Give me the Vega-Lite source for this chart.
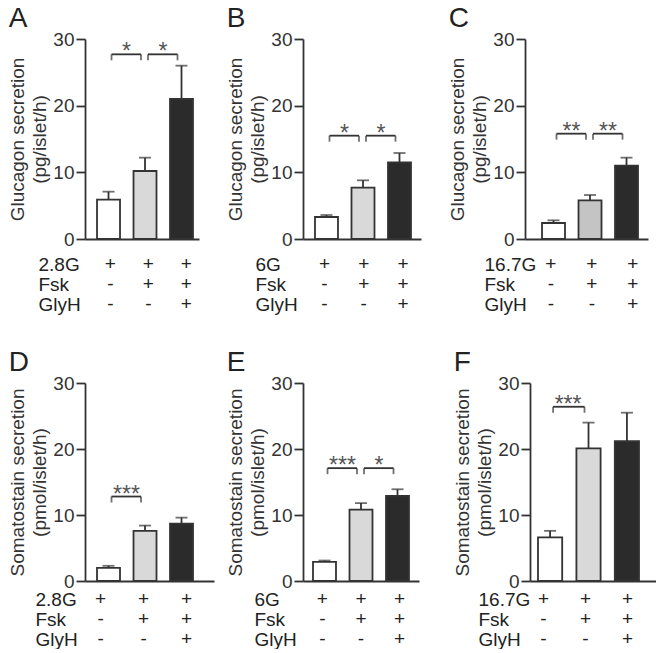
{
  "$schema": "https://vega.github.io/schema/vega-lite/v6.json",
  "padding": {"left": 8, "top": 5, "right": 0, "bottom": 0},
  "background": "white",
  "config": {
    "font": "Liberation Sans",
    "view": {"stroke": null},
    "axis": {"domainColor": "#333", "domainWidth": 1.8, "tickColor": "#333", "tickWidth": 1.8, "tickSize": 9, "labelFontSize": 19, "labelColor": "#333", "titleFontSize": 19, "titleFontWeight": "normal", "titleColor": "#333", "grid": false, "labelFlush": false, "labelOverlap": false},
    "title": {"fontSize": 28, "fontWeight": "normal", "color": "#222", "anchor": "start", "frame": "bounds", "offset": -3}
  },
  "datasets": {
    "A": [{"cond": "1", "mean": 5.9, "up": 7.1}, {"cond": "2", "mean": 10.2, "up": 12.2}, {"cond": "3", "mean": 21.0, "up": 26.0}],
    "Ab": [{"from": "1", "to": "2", "y": 27.7, "label": "*"}, {"from": "2", "to": "3", "y": 27.7, "label": "*"}],
    "tA": [{"cond": "1", "row": "2.8G", "sign": "+"}, {"cond": "2", "row": "2.8G", "sign": "+"}, {"cond": "3", "row": "2.8G", "sign": "+"}, {"cond": "1", "row": "Fsk", "sign": "-"}, {"cond": "2", "row": "Fsk", "sign": "+"}, {"cond": "3", "row": "Fsk", "sign": "+"}, {"cond": "1", "row": "GlyH", "sign": "-"}, {"cond": "2", "row": "GlyH", "sign": "-"}, {"cond": "3", "row": "GlyH", "sign": "+"}],
    "B": [{"cond": "1", "mean": 3.3, "up": 3.6}, {"cond": "2", "mean": 7.7, "up": 8.8}, {"cond": "3", "mean": 11.5, "up": 12.9}],
    "Bb": [{"from": "1", "to": "2", "y": 15.5, "label": "*"}, {"from": "2", "to": "3", "y": 15.5, "label": "*"}],
    "tB": [{"cond": "1", "row": "6G", "sign": "+"}, {"cond": "2", "row": "6G", "sign": "+"}, {"cond": "3", "row": "6G", "sign": "+"}, {"cond": "1", "row": "Fsk", "sign": "-"}, {"cond": "2", "row": "Fsk", "sign": "+"}, {"cond": "3", "row": "Fsk", "sign": "+"}, {"cond": "1", "row": "GlyH", "sign": "-"}, {"cond": "2", "row": "GlyH", "sign": "-"}, {"cond": "3", "row": "GlyH", "sign": "+"}],
    "C": [{"cond": "1", "mean": 2.4, "up": 2.8}, {"cond": "2", "mean": 5.8, "up": 6.6}, {"cond": "3", "mean": 11.0, "up": 12.2}],
    "Cb": [{"from": "1", "to": "2", "y": 15.8, "label": "**"}, {"from": "2", "to": "3", "y": 15.8, "label": "**"}],
    "tC": [{"cond": "1", "row": "16.7G", "sign": "+"}, {"cond": "2", "row": "16.7G", "sign": "+"}, {"cond": "3", "row": "16.7G", "sign": "+"}, {"cond": "1", "row": "Fsk", "sign": "-"}, {"cond": "2", "row": "Fsk", "sign": "+"}, {"cond": "3", "row": "Fsk", "sign": "+"}, {"cond": "1", "row": "GlyH", "sign": "-"}, {"cond": "2", "row": "GlyH", "sign": "-"}, {"cond": "3", "row": "GlyH", "sign": "+"}],
    "D": [{"cond": "1", "mean": 2.0, "up": 2.3}, {"cond": "2", "mean": 7.6, "up": 8.4}, {"cond": "3", "mean": 8.7, "up": 9.6}],
    "Db": [{"from": "1", "to": "2", "y": 12.8, "label": "***"}],
    "tD": [{"cond": "1", "row": "2.8G", "sign": "+"}, {"cond": "2", "row": "2.8G", "sign": "+"}, {"cond": "3", "row": "2.8G", "sign": "+"}, {"cond": "1", "row": "Fsk", "sign": "-"}, {"cond": "2", "row": "Fsk", "sign": "+"}, {"cond": "3", "row": "Fsk", "sign": "+"}, {"cond": "1", "row": "GlyH", "sign": "-"}, {"cond": "2", "row": "GlyH", "sign": "-"}, {"cond": "3", "row": "GlyH", "sign": "+"}],
    "E": [{"cond": "1", "mean": 2.9, "up": 3.1}, {"cond": "2", "mean": 10.8, "up": 11.8}, {"cond": "3", "mean": 12.9, "up": 13.9}],
    "Eb": [{"from": "1", "to": "2", "y": 17.1, "label": "***"}, {"from": "2", "to": "3", "y": 17.1, "label": "*"}],
    "tE": [{"cond": "1", "row": "6G", "sign": "+"}, {"cond": "2", "row": "6G", "sign": "+"}, {"cond": "3", "row": "6G", "sign": "+"}, {"cond": "1", "row": "Fsk", "sign": "-"}, {"cond": "2", "row": "Fsk", "sign": "+"}, {"cond": "3", "row": "Fsk", "sign": "+"}, {"cond": "1", "row": "GlyH", "sign": "-"}, {"cond": "2", "row": "GlyH", "sign": "-"}, {"cond": "3", "row": "GlyH", "sign": "+"}],
    "F": [{"cond": "1", "mean": 6.6, "up": 7.6}, {"cond": "2", "mean": 20.1, "up": 24.0}, {"cond": "3", "mean": 21.2, "up": 25.5}],
    "Fb": [{"from": "1", "to": "2", "y": 26.4, "label": "***"}],
    "tF": [{"cond": "1", "row": "16.7G", "sign": "+"}, {"cond": "2", "row": "16.7G", "sign": "+"}, {"cond": "3", "row": "16.7G", "sign": "+"}, {"cond": "1", "row": "Fsk", "sign": "-"}, {"cond": "2", "row": "Fsk", "sign": "+"}, {"cond": "3", "row": "Fsk", "sign": "+"}, {"cond": "1", "row": "GlyH", "sign": "-"}, {"cond": "2", "row": "GlyH", "sign": "-"}, {"cond": "3", "row": "GlyH", "sign": "+"}]
  },
  "spacing": 35,
  "vconcat": [
    {
      "spacing": 27,
      "hconcat": [
        {
          "title": "A", "bounds": "flush", "spacing": 15,
          "vconcat": [
            {"width": 114, "height": 200,
             "layer": [
               {"data": {"name": "A"}, "mark": {"type": "rule", "color": "#333", "strokeWidth": 1.8},
                "encoding": {"x": {"field": "cond", "type": "nominal", "scale": {"domain": ["1","2","3"], "paddingInner": 0.37, "paddingOuter": 0.247, "align": 0.667}, "axis": {"title": null, "labels": false, "ticks": false}},
                             "y": {"field": "mean", "type": "quantitative", "scale": {"domain": [0, 30]}, "title": ["Glucagon secretion", "(pg/islet/h)"], "axis": {"values": [0,5,10,15,20,25,30], "labelExpr": "datum.value % 10 === 0 ? datum.label : ''", "labelPadding": 2, "titlePadding": 3, "titleLineHeight": 22}},
                             "y2": {"field": "up"}}},
               {"data": {"name": "A"}, "mark": {"type": "bar", "stroke": "#333", "strokeWidth": 1.8},
                "encoding": {"x": {"field": "cond", "type": "nominal", "title": null}, "y": {"field": "mean", "type": "quantitative", "title": ["Glucagon secretion", "(pg/islet/h)"]},
                             "fill": {"condition": [{"test": "datum.cond === '1'", "value": "#ffffff"}, {"test": "datum.cond === '2'", "value": "#d9d9d9"}], "value": "#2b2b2b"}}},
               {"data": {"name": "A"}, "mark": {"type": "tick", "orient": "horizontal", "color": "#333", "size": 12, "thickness": 1.8},
                "encoding": {"x": {"field": "cond", "type": "nominal", "title": null}, "y": {"field": "up", "type": "quantitative", "title": ["Glucagon secretion", "(pg/islet/h)"]}}},
               {"data": {"name": "Ab"}, "mark": {"type": "rule", "color": "#333", "strokeWidth": 1.8, "xOffset": 3, "x2Offset": -4},
                "encoding": {"x": {"field": "from", "type": "nominal", "title": null}, "x2": {"field": "to"}, "y": {"field": "y", "type": "quantitative", "title": ["Glucagon secretion", "(pg/islet/h)"]}}},
               {"data": {"name": "Ab"}, "mark": {"type": "tick", "orient": "vertical", "color": "#333", "size": 6, "thickness": 1.8, "xOffset": 3, "yOffset": 3},
                "encoding": {"x": {"field": "from", "type": "nominal", "title": null}, "y": {"field": "y", "type": "quantitative", "title": ["Glucagon secretion", "(pg/islet/h)"]}}},
               {"data": {"name": "Ab"}, "mark": {"type": "tick", "orient": "vertical", "color": "#333", "size": 6, "thickness": 1.8, "xOffset": -4, "yOffset": 3},
                "encoding": {"x": {"field": "to", "type": "nominal", "title": null}, "y": {"field": "y", "type": "quantitative", "title": ["Glucagon secretion", "(pg/islet/h)"]}}},
               {"data": {"name": "Ab"}, "mark": {"type": "text", "fontSize": 23, "color": "#555", "baseline": "alphabetic", "dy": 5, "xOffset": 18},
                "encoding": {"x": {"field": "from", "type": "nominal", "title": null}, "y": {"field": "y", "type": "quantitative", "title": ["Glucagon secretion", "(pg/islet/h)"]}, "text": {"field": "label"}}}
             ]},
            {"width": 114, "height": 60, "data": {"name": "tA"}, "mark": {"type": "text", "fontSize": 19, "color": "#222"},
             "encoding": {"x": {"field": "cond", "type": "nominal", "scale": {"domain": ["1","2","3"], "paddingInner": 0.37, "paddingOuter": 0.247, "align": 0.667}, "axis": null},
                          "y": {"field": "row", "type": "nominal", "scale": {"domain": ["2.8G", "Fsk", "GlyH"]}, "axis": {"title": null, "domain": false, "ticks": false, "tickSize": 0, "labelAlign": "left", "labelPadding": 47, "labelColor": "#222"}},
                          "text": {"field": "sign"}}}
          ]
        },
        {
          "title": "B", "bounds": "flush", "spacing": 15,
          "vconcat": [
            {"width": 118, "height": 200,
             "layer": [
               {"data": {"name": "B"}, "mark": {"type": "rule", "color": "#333", "strokeWidth": 1.8},
                "encoding": {"x": {"field": "cond", "type": "nominal", "scale": {"domain": ["1","2","3"], "paddingInner": 0.37, "paddingOuter": 0.301, "align": 0.545}, "axis": {"title": null, "labels": false, "ticks": false}},
                             "y": {"field": "mean", "type": "quantitative", "scale": {"domain": [0, 30]}, "title": ["Glucagon secretion", "(pg/islet/h)"], "axis": {"values": [0,5,10,15,20,25,30], "labelExpr": "datum.value % 10 === 0 ? datum.label : ''", "labelPadding": 2, "titlePadding": 3, "titleLineHeight": 22}},
                             "y2": {"field": "up"}}},
               {"data": {"name": "B"}, "mark": {"type": "bar", "stroke": "#333", "strokeWidth": 1.8},
                "encoding": {"x": {"field": "cond", "type": "nominal", "title": null}, "y": {"field": "mean", "type": "quantitative", "title": ["Glucagon secretion", "(pg/islet/h)"]},
                             "fill": {"condition": [{"test": "datum.cond === '1'", "value": "#ffffff"}, {"test": "datum.cond === '2'", "value": "#d9d9d9"}], "value": "#2b2b2b"}}},
               {"data": {"name": "B"}, "mark": {"type": "tick", "orient": "horizontal", "color": "#333", "size": 12, "thickness": 1.8},
                "encoding": {"x": {"field": "cond", "type": "nominal", "title": null}, "y": {"field": "up", "type": "quantitative", "title": ["Glucagon secretion", "(pg/islet/h)"]}}},
               {"data": {"name": "Bb"}, "mark": {"type": "rule", "color": "#333", "strokeWidth": 1.8, "xOffset": 3, "x2Offset": -4},
                "encoding": {"x": {"field": "from", "type": "nominal", "title": null}, "x2": {"field": "to"}, "y": {"field": "y", "type": "quantitative", "title": ["Glucagon secretion", "(pg/islet/h)"]}}},
               {"data": {"name": "Bb"}, "mark": {"type": "tick", "orient": "vertical", "color": "#333", "size": 6, "thickness": 1.8, "xOffset": 3, "yOffset": 3},
                "encoding": {"x": {"field": "from", "type": "nominal", "title": null}, "y": {"field": "y", "type": "quantitative", "title": ["Glucagon secretion", "(pg/islet/h)"]}}},
               {"data": {"name": "Bb"}, "mark": {"type": "tick", "orient": "vertical", "color": "#333", "size": 6, "thickness": 1.8, "xOffset": -4, "yOffset": 3},
                "encoding": {"x": {"field": "to", "type": "nominal", "title": null}, "y": {"field": "y", "type": "quantitative", "title": ["Glucagon secretion", "(pg/islet/h)"]}}},
               {"data": {"name": "Bb"}, "mark": {"type": "text", "fontSize": 23, "color": "#555", "baseline": "alphabetic", "dy": 5, "xOffset": 18},
                "encoding": {"x": {"field": "from", "type": "nominal", "title": null}, "y": {"field": "y", "type": "quantitative", "title": ["Glucagon secretion", "(pg/islet/h)"]}, "text": {"field": "label"}}}
             ]},
            {"width": 118, "height": 60, "data": {"name": "tB"}, "mark": {"type": "text", "fontSize": 19, "color": "#222"},
             "encoding": {"x": {"field": "cond", "type": "nominal", "scale": {"domain": ["1","2","3"], "paddingInner": 0.37, "paddingOuter": 0.301, "align": 0.545}, "axis": null},
                          "y": {"field": "row", "type": "nominal", "scale": {"domain": ["6G", "Fsk", "GlyH"]}, "axis": {"title": null, "domain": false, "ticks": false, "tickSize": 0, "labelAlign": "left", "labelPadding": 48, "labelColor": "#222"}},
                          "text": {"field": "sign"}}}
          ]
        },
        {
          "title": "C", "bounds": "flush", "spacing": 15,
          "vconcat": [
            {"width": 123, "height": 200,
             "layer": [
               {"data": {"name": "C"}, "mark": {"type": "rule", "color": "#333", "strokeWidth": 1.8},
                "encoding": {"x": {"field": "cond", "type": "nominal", "scale": {"domain": ["1","2","3"], "paddingInner": 0.37, "paddingOuter": 0.37, "align": 0.63}, "axis": {"title": null, "labels": false, "ticks": false}},
                             "y": {"field": "mean", "type": "quantitative", "scale": {"domain": [0, 30]}, "title": ["Glucagon secretion", "(pg/islet/h)"], "axis": {"values": [0,5,10,15,20,25,30], "labelExpr": "datum.value % 10 === 0 ? datum.label : ''", "labelPadding": 2, "titlePadding": 3, "titleLineHeight": 22}},
                             "y2": {"field": "up"}}},
               {"data": {"name": "C"}, "mark": {"type": "bar", "stroke": "#333", "strokeWidth": 1.8},
                "encoding": {"x": {"field": "cond", "type": "nominal", "title": null}, "y": {"field": "mean", "type": "quantitative", "title": ["Glucagon secretion", "(pg/islet/h)"]},
                             "fill": {"condition": [{"test": "datum.cond === '1'", "value": "#ffffff"}, {"test": "datum.cond === '2'", "value": "#c4c4c4"}], "value": "#2b2b2b"}}},
               {"data": {"name": "C"}, "mark": {"type": "tick", "orient": "horizontal", "color": "#333", "size": 12, "thickness": 1.8},
                "encoding": {"x": {"field": "cond", "type": "nominal", "title": null}, "y": {"field": "up", "type": "quantitative", "title": ["Glucagon secretion", "(pg/islet/h)"]}}},
               {"data": {"name": "Cb"}, "mark": {"type": "rule", "color": "#333", "strokeWidth": 1.8, "xOffset": 3, "x2Offset": -4},
                "encoding": {"x": {"field": "from", "type": "nominal", "title": null}, "x2": {"field": "to"}, "y": {"field": "y", "type": "quantitative", "title": ["Glucagon secretion", "(pg/islet/h)"]}}},
               {"data": {"name": "Cb"}, "mark": {"type": "tick", "orient": "vertical", "color": "#333", "size": 6, "thickness": 1.8, "xOffset": 3, "yOffset": 3},
                "encoding": {"x": {"field": "from", "type": "nominal", "title": null}, "y": {"field": "y", "type": "quantitative", "title": ["Glucagon secretion", "(pg/islet/h)"]}}},
               {"data": {"name": "Cb"}, "mark": {"type": "tick", "orient": "vertical", "color": "#333", "size": 6, "thickness": 1.8, "xOffset": -4, "yOffset": 3},
                "encoding": {"x": {"field": "to", "type": "nominal", "title": null}, "y": {"field": "y", "type": "quantitative", "title": ["Glucagon secretion", "(pg/islet/h)"]}}},
               {"data": {"name": "Cb"}, "mark": {"type": "text", "fontSize": 23, "color": "#555", "baseline": "alphabetic", "dy": 5, "xOffset": 18},
                "encoding": {"x": {"field": "from", "type": "nominal", "title": null}, "y": {"field": "y", "type": "quantitative", "title": ["Glucagon secretion", "(pg/islet/h)"]}, "text": {"field": "label"}}}
             ]},
            {"width": 123, "height": 60, "data": {"name": "tC"}, "mark": {"type": "text", "fontSize": 19, "color": "#222"},
             "encoding": {"x": {"field": "cond", "type": "nominal", "scale": {"domain": ["1","2","3"], "paddingInner": 0.37, "paddingOuter": 0.37, "align": 0.63}, "axis": null},
                          "y": {"field": "row", "type": "nominal", "scale": {"domain": ["16.7G", "Fsk", "GlyH"]}, "axis": {"title": null, "domain": false, "ticks": false, "tickSize": 0, "labelAlign": "left", "labelPadding": 41, "labelColor": "#222"}},
                          "text": {"field": "sign"}}}
          ]
        }
      ]
    },
    {
      "spacing": 34,
      "hconcat": [
        {
          "spacing": 12,
          "hconcat": [
            {
              "title": "D", "bounds": "flush", "spacing": 8,
              "vconcat": [
                {"width": 129, "height": 198,
                 "layer": [
                   {"data": {"name": "D"}, "mark": {"type": "rule", "color": "#333", "strokeWidth": 1.8},
                    "encoding": {"x": {"field": "cond", "type": "nominal", "scale": {"domain": ["1","2","3"], "paddingInner": 0.37, "paddingOuter": 0.452, "align": 0.364}, "axis": {"title": null, "labels": false, "ticks": false}},
                                 "y": {"field": "mean", "type": "quantitative", "scale": {"domain": [0, 30]}, "title": ["Somatostain secretion", "(pmol/islet/h)"], "axis": {"values": [0,5,10,15,20,25,30], "labelExpr": "datum.value % 10 === 0 ? datum.label : ''", "labelPadding": 2, "titlePadding": 3, "titleLineHeight": 22}},
                                 "y2": {"field": "up"}}},
                   {"data": {"name": "D"}, "mark": {"type": "bar", "stroke": "#333", "strokeWidth": 1.8},
                    "encoding": {"x": {"field": "cond", "type": "nominal", "title": null}, "y": {"field": "mean", "type": "quantitative", "title": ["Somatostain secretion", "(pmol/islet/h)"]},
                                 "fill": {"condition": [{"test": "datum.cond === '1'", "value": "#ffffff"}, {"test": "datum.cond === '2'", "value": "#d9d9d9"}], "value": "#2b2b2b"}}},
                   {"data": {"name": "D"}, "mark": {"type": "tick", "orient": "horizontal", "color": "#333", "size": 12, "thickness": 1.8},
                    "encoding": {"x": {"field": "cond", "type": "nominal", "title": null}, "y": {"field": "up", "type": "quantitative", "title": ["Somatostain secretion", "(pmol/islet/h)"]}}},
                   {"data": {"name": "Db"}, "mark": {"type": "rule", "color": "#333", "strokeWidth": 1.8, "xOffset": 3, "x2Offset": -4},
                    "encoding": {"x": {"field": "from", "type": "nominal", "title": null}, "x2": {"field": "to"}, "y": {"field": "y", "type": "quantitative", "title": ["Somatostain secretion", "(pmol/islet/h)"]}}},
                   {"data": {"name": "Db"}, "mark": {"type": "tick", "orient": "vertical", "color": "#333", "size": 6, "thickness": 1.8, "xOffset": 3, "yOffset": 3},
                    "encoding": {"x": {"field": "from", "type": "nominal", "title": null}, "y": {"field": "y", "type": "quantitative", "title": ["Somatostain secretion", "(pmol/islet/h)"]}}},
                   {"data": {"name": "Db"}, "mark": {"type": "tick", "orient": "vertical", "color": "#333", "size": 6, "thickness": 1.8, "xOffset": -4, "yOffset": 3},
                    "encoding": {"x": {"field": "to", "type": "nominal", "title": null}, "y": {"field": "y", "type": "quantitative", "title": ["Somatostain secretion", "(pmol/islet/h)"]}}},
                   {"data": {"name": "Db"}, "mark": {"type": "text", "fontSize": 23, "color": "#555", "baseline": "alphabetic", "dy": 5, "xOffset": 18},
                    "encoding": {"x": {"field": "from", "type": "nominal", "title": null}, "y": {"field": "y", "type": "quantitative", "title": ["Somatostain secretion", "(pmol/islet/h)"]}, "text": {"field": "label"}}}
                 ]},
                {"width": 129, "height": 60, "data": {"name": "tD"}, "mark": {"type": "text", "fontSize": 19, "color": "#222"},
                 "encoding": {"x": {"field": "cond", "type": "nominal", "scale": {"domain": ["1","2","3"], "paddingInner": 0.37, "paddingOuter": 0.452, "align": 0.364}, "axis": null},
                              "y": {"field": "row", "type": "nominal", "scale": {"domain": ["2.8G", "Fsk", "GlyH"]}, "axis": {"title": null, "domain": false, "ticks": false, "tickSize": 0, "labelAlign": "left", "labelPadding": 50, "labelColor": "#222"}},
                              "text": {"field": "sign"}}}
              ]
            },
            {
              "title": "E", "bounds": "flush", "spacing": 8,
              "vconcat": [
                {"width": 116, "height": 198,
                 "layer": [
                   {"data": {"name": "E"}, "mark": {"type": "rule", "color": "#333", "strokeWidth": 1.8},
                    "encoding": {"x": {"field": "cond", "type": "nominal", "scale": {"domain": ["1","2","3"], "paddingInner": 0.37, "paddingOuter": 0.274, "align": 0.5}, "axis": {"title": null, "labels": false, "ticks": false}},
                                 "y": {"field": "mean", "type": "quantitative", "scale": {"domain": [0, 30]}, "title": ["Somatostain secretion", "(pmol/islet/h)"], "axis": {"values": [0,5,10,15,20,25,30], "labelExpr": "datum.value % 10 === 0 ? datum.label : ''", "labelPadding": 2, "titlePadding": 3, "titleLineHeight": 22}},
                                 "y2": {"field": "up"}}},
                   {"data": {"name": "E"}, "mark": {"type": "bar", "stroke": "#333", "strokeWidth": 1.8},
                    "encoding": {"x": {"field": "cond", "type": "nominal", "title": null}, "y": {"field": "mean", "type": "quantitative", "title": ["Somatostain secretion", "(pmol/islet/h)"]},
                                 "fill": {"condition": [{"test": "datum.cond === '1'", "value": "#ffffff"}, {"test": "datum.cond === '2'", "value": "#d9d9d9"}], "value": "#2b2b2b"}}},
                   {"data": {"name": "E"}, "mark": {"type": "tick", "orient": "horizontal", "color": "#333", "size": 12, "thickness": 1.8},
                    "encoding": {"x": {"field": "cond", "type": "nominal", "title": null}, "y": {"field": "up", "type": "quantitative", "title": ["Somatostain secretion", "(pmol/islet/h)"]}}},
                   {"data": {"name": "Eb"}, "mark": {"type": "rule", "color": "#333", "strokeWidth": 1.8, "xOffset": 3, "x2Offset": -4},
                    "encoding": {"x": {"field": "from", "type": "nominal", "title": null}, "x2": {"field": "to"}, "y": {"field": "y", "type": "quantitative", "title": ["Somatostain secretion", "(pmol/islet/h)"]}}},
                   {"data": {"name": "Eb"}, "mark": {"type": "tick", "orient": "vertical", "color": "#333", "size": 6, "thickness": 1.8, "xOffset": 3, "yOffset": 3},
                    "encoding": {"x": {"field": "from", "type": "nominal", "title": null}, "y": {"field": "y", "type": "quantitative", "title": ["Somatostain secretion", "(pmol/islet/h)"]}}},
                   {"data": {"name": "Eb"}, "mark": {"type": "tick", "orient": "vertical", "color": "#333", "size": 6, "thickness": 1.8, "xOffset": -4, "yOffset": 3},
                    "encoding": {"x": {"field": "to", "type": "nominal", "title": null}, "y": {"field": "y", "type": "quantitative", "title": ["Somatostain secretion", "(pmol/islet/h)"]}}},
                   {"data": {"name": "Eb"}, "mark": {"type": "text", "fontSize": 23, "color": "#555", "baseline": "alphabetic", "dy": 5, "xOffset": 18},
                    "encoding": {"x": {"field": "from", "type": "nominal", "title": null}, "y": {"field": "y", "type": "quantitative", "title": ["Somatostain secretion", "(pmol/islet/h)"]}, "text": {"field": "label"}}}
                 ]},
                {"width": 116, "height": 60, "data": {"name": "tE"}, "mark": {"type": "text", "fontSize": 19, "color": "#222"},
                 "encoding": {"x": {"field": "cond", "type": "nominal", "scale": {"domain": ["1","2","3"], "paddingInner": 0.37, "paddingOuter": 0.274, "align": 0.5}, "axis": null},
                              "y": {"field": "row", "type": "nominal", "scale": {"domain": ["6G", "Fsk", "GlyH"]}, "axis": {"title": null, "domain": false, "ticks": false, "tickSize": 0, "labelAlign": "left", "labelPadding": 49, "labelColor": "#222"}},
                              "text": {"field": "sign"}}}
              ]
            }
          ]
        },
        {
          "title": "F", "bounds": "flush", "spacing": 8,
          "vconcat": [
            {"width": 126, "height": 198,
             "layer": [
               {"data": {"name": "F"}, "mark": {"type": "rule", "color": "#333", "strokeWidth": 1.8},
                "encoding": {"x": {"field": "cond", "type": "nominal", "scale": {"domain": ["1","2","3"], "paddingInner": 0.37, "paddingOuter": 0.325, "align": 0.32}, "axis": {"title": null, "labels": false, "ticks": false}},
                             "y": {"field": "mean", "type": "quantitative", "scale": {"domain": [0, 30]}, "title": ["Somatostain secretion", "(pmol/islet/h)"], "axis": {"values": [0,5,10,15,20,25,30], "labelExpr": "datum.value % 10 === 0 ? datum.label : ''", "labelPadding": 2, "titlePadding": 3, "titleLineHeight": 22}},
                             "y2": {"field": "up"}}},
               {"data": {"name": "F"}, "mark": {"type": "bar", "stroke": "#333", "strokeWidth": 1.8},
                "encoding": {"x": {"field": "cond", "type": "nominal", "title": null}, "y": {"field": "mean", "type": "quantitative", "title": ["Somatostain secretion", "(pmol/islet/h)"]},
                             "fill": {"condition": [{"test": "datum.cond === '1'", "value": "#ffffff"}, {"test": "datum.cond === '2'", "value": "#d9d9d9"}], "value": "#2b2b2b"}}},
               {"data": {"name": "F"}, "mark": {"type": "tick", "orient": "horizontal", "color": "#333", "size": 12, "thickness": 1.8},
                "encoding": {"x": {"field": "cond", "type": "nominal", "title": null}, "y": {"field": "up", "type": "quantitative", "title": ["Somatostain secretion", "(pmol/islet/h)"]}}},
               {"data": {"name": "Fb"}, "mark": {"type": "rule", "color": "#333", "strokeWidth": 1.8, "xOffset": 3, "x2Offset": -4},
                "encoding": {"x": {"field": "from", "type": "nominal", "title": null}, "x2": {"field": "to"}, "y": {"field": "y", "type": "quantitative", "title": ["Somatostain secretion", "(pmol/islet/h)"]}}},
               {"data": {"name": "Fb"}, "mark": {"type": "tick", "orient": "vertical", "color": "#333", "size": 6, "thickness": 1.8, "xOffset": 3, "yOffset": 3},
                "encoding": {"x": {"field": "from", "type": "nominal", "title": null}, "y": {"field": "y", "type": "quantitative", "title": ["Somatostain secretion", "(pmol/islet/h)"]}}},
               {"data": {"name": "Fb"}, "mark": {"type": "tick", "orient": "vertical", "color": "#333", "size": 6, "thickness": 1.8, "xOffset": -4, "yOffset": 3},
                "encoding": {"x": {"field": "to", "type": "nominal", "title": null}, "y": {"field": "y", "type": "quantitative", "title": ["Somatostain secretion", "(pmol/islet/h)"]}}},
               {"data": {"name": "Fb"}, "mark": {"type": "text", "fontSize": 23, "color": "#555", "baseline": "alphabetic", "dy": 5, "xOffset": 18},
                "encoding": {"x": {"field": "from", "type": "nominal", "title": null}, "y": {"field": "y", "type": "quantitative", "title": ["Somatostain secretion", "(pmol/islet/h)"]}, "text": {"field": "label"}}}
             ]},
            {"width": 126, "height": 60, "data": {"name": "tF"}, "mark": {"type": "text", "fontSize": 19, "color": "#222"},
             "encoding": {"x": {"field": "cond", "type": "nominal", "scale": {"domain": ["1","2","3"], "paddingInner": 0.37, "paddingOuter": 0.325, "align": 0.32}, "axis": null},
                          "y": {"field": "row", "type": "nominal", "scale": {"domain": ["16.7G", "Fsk", "GlyH"]}, "axis": {"title": null, "domain": false, "ticks": false, "tickSize": 0, "labelAlign": "left", "labelPadding": 52, "labelColor": "#222"}},
                          "text": {"field": "sign"}}}
          ]
        }
      ]
    }
  ]
}
